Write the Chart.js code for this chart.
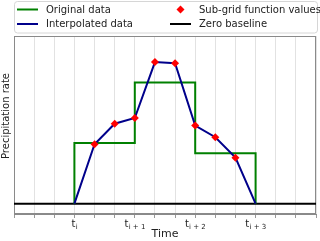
<!DOCTYPE html>
<html>
<head>
<meta charset="utf-8">
<script src="https://cdn.jsdelivr.net/npm/chart.js@4.4.1/dist/chart.umd.min.js"></script>
<style>
  html, body { margin: 0; padding: 0; background: #fff; }
  #wrap { width: 320px; height: 241px; }
  canvas { display: block; }
</style>
</head>
<body>
<div id="wrap"><canvas id="grafico" width="320" height="241"></canvas></div>
<script>
// bordas das células originais e os valores de cada célula
const cellEdges = [3, 6, 9, 12];
const cellValues = [3, 6, 2.5];

// valores da sub-grade
const subX = [4, 5, 6, 7, 8, 9, 10, 11];
const subY = [2.94, 3.96, 4.24, 7.01, 6.95, 3.87, 3.29, 2.28];

// rótulos do eixo x (base + subscrito)
const tickPositions = [3, 6, 9, 12];
const tickBase = ['t', 't', 't', 't'];
const tickSub = ['i', 'i + 1', 'i + 2', 'i + 3'];

const xRange = [0, 15];
const yRange = [-0.51, 8.3];

const FONTE = "'DejaVu Sans', sans-serif";

// monta os pontos a partir dos arrays
const originalPts = [{ x: cellEdges[0], y: 0 }].concat(
    cellEdges.map((e, i) => ({ x: e, y: i < cellValues.length ? cellValues[i] : 0 }))
);
const subPts = subX.map((x, i) => ({ x: x, y: subY[i] }));
const interpPts = [{ x: cellEdges[0], y: 0 }].concat(subPts, [{ x: cellEdges[cellEdges.length - 1], y: 0 }]);
const basePts = [{ x: xRange[0], y: 0 }, { x: xRange[1], y: 0 }];

// moldura cinza em volta da área do gráfico
const molduraPlugin = {
    id: 'moldura',
    beforeDatasetsDraw(chart) {
        const a = chart.chartArea;
        const ctx = chart.ctx;
        ctx.save();
        ctx.strokeStyle = '#8a8a8a';
        ctx.lineWidth = 1;
        ctx.strokeRect(Math.round(a.left) + 0.5, Math.round(a.top) + 0.5,
            Math.round(a.right - a.left) - 1, Math.round(a.bottom - a.top) - 1);
        ctx.restore();
    }
};

// rótulos com subscrito e título do eixo y
const textosPlugin = {
    id: 'textos',
    afterDraw(chart) {
        const ctx = chart.ctx;
        const sx = chart.scales.x;
        ctx.save();
        ctx.fillStyle = '#222';
        ctx.textBaseline = 'alphabetic';
        ctx.textAlign = 'left';
        tickPositions.forEach((v, k) => {
            ctx.font = '10px ' + FONTE;
            const wb = ctx.measureText(tickBase[k]).width;
            ctx.font = '7px ' + FONTE;
            const ws = ctx.measureText(tickSub[k]).width;
            const x0 = sx.getPixelForValue(v) - (wb + ws) / 2;
            ctx.font = '10px ' + FONTE;
            ctx.fillText(tickBase[k], x0, 226.5);
            ctx.font = '7px ' + FONTE;
            ctx.fillText(tickSub[k], x0 + wb + 0.3, 229);
        });

        // título do eixo y
        ctx.translate(6.5, 116);
        ctx.rotate(-Math.PI / 2);
        ctx.font = '10px ' + FONTE;
        ctx.textAlign = 'center';
        ctx.textBaseline = 'middle';
        ctx.fillText('Precipitation rate', 0, 0);
        ctx.restore();
    }
};

// legenda em duas colunas, igual à do matplotlib
const legendaPlugin = {
    id: 'legenda',
    afterDraw(chart) {
        const ctx = chart.ctx;
        const ds = chart.data.datasets;
        ctx.save();
        ctx.strokeStyle = '#d6d6d6';
        ctx.fillStyle = 'rgba(255,255,255,0.8)';
        ctx.lineWidth = 1;
        ctx.beginPath();
        ctx.roundRect(14.5, 1.5, 303, 31.5, 3);
        ctx.fill();
        ctx.stroke();

        const slots = [
            { i: 0, x: 17, y: 9.5 },
            { i: 1, x: 17, y: 24 },
            { i: 2, x: 170, y: 9.5 },
            { i: 3, x: 170, y: 24 }
        ];
        ctx.font = '10px ' + FONTE;
        ctx.textBaseline = 'middle';
        slots.forEach(s => {
            const d = ds[s.i];
            if (d.showLine === false) {
                ctx.fillStyle = d.pointBackgroundColor;
                const cx = s.x + 10.5, r = 4;
                ctx.beginPath();
                ctx.moveTo(cx, s.y - r);
                ctx.lineTo(cx + r, s.y);
                ctx.lineTo(cx, s.y + r);
                ctx.lineTo(cx - r, s.y);
                ctx.closePath();
                ctx.fill();
            } else {
                ctx.strokeStyle = d.borderColor;
                ctx.lineWidth = d.borderWidth;
                ctx.beginPath();
                ctx.moveTo(s.x, s.y);
                ctx.lineTo(s.x + 21, s.y);
                ctx.stroke();
            }
            ctx.fillStyle = '#222';
            ctx.fillText(d.label, s.x + 29, s.y + 0.5);
        });
        ctx.restore();
    }
};

const ctx = document.getElementById('grafico').getContext('2d');
const meuGrafico = new Chart(ctx, {
    type: 'line',
    data: {
        datasets: [
            {
                label: 'Original data',
                data: originalPts,
                borderColor: '#008000',
                borderWidth: 2,
                stepped: 'before',
                pointRadius: 0,
                fill: false,
                order: 2
            },
            {
                label: 'Interpolated data',
                data: interpPts,
                borderColor: '#00008b',
                borderWidth: 2,
                tension: 0,
                pointRadius: 0,
                fill: false,
                order: 1
            },
            {
                label: 'Sub-grid function values',
                data: subPts,
                showLine: false,
                pointStyle: 'rectRot',
                pointRadius: 4,
                pointBackgroundColor: '#ff0000',
                pointBorderColor: '#ff0000',
                pointBorderWidth: 0,
                order: 0
            },
            {
                label: 'Zero baseline',
                data: basePts,
                borderColor: '#000000',
                borderWidth: 2,
                pointRadius: 0,
                fill: false,
                order: 3
            }
        ]
    },
    options: {
        responsive: false,
        animation: false,
        maintainAspectRatio: false,
        layout: { padding: { top: 36, right: 2, left: 14, bottom: 0 } },
        plugins: { legend: { display: false }, tooltip: { enabled: false } },
        scales: {
            x: {
                type: 'linear',
                min: xRange[0],
                max: xRange[1],
                afterFit: s => { s.height = 27; },
                afterBuildTicks: s => {
                    const t = [];
                    for (let v = xRange[0]; v <= xRange[1]; v++) t.push({ value: v });
                    s.ticks = t;
                },
                ticks: {
                    autoSkip: false,
                    maxRotation: 0,
                    padding: 1,
                    font: { family: FONTE, size: 10 },
                    callback: () => ''
                },
                grid: {
                    color: '#e2e2e2',
                    tickColor: '#999',
                    tickLength: 4
                },
                border: { color: '#8a8a8a' },
                title: {
                    display: true,
                    text: 'Time',
                    color: '#222',
                    font: { family: FONTE, size: 11 },
                    padding: { top: 0, bottom: 0 }
                }
            },
            y: {
                min: yRange[0],
                max: yRange[1],
                afterFit: s => { s.width = 0; },
                ticks: { display: false },
                grid: { display: false },
                border: { color: '#8a8a8a' },
                title: { display: false }
            }
        }
    },
    plugins: [molduraPlugin, textosPlugin, legendaPlugin]
});
</script>
</body>
</html>
